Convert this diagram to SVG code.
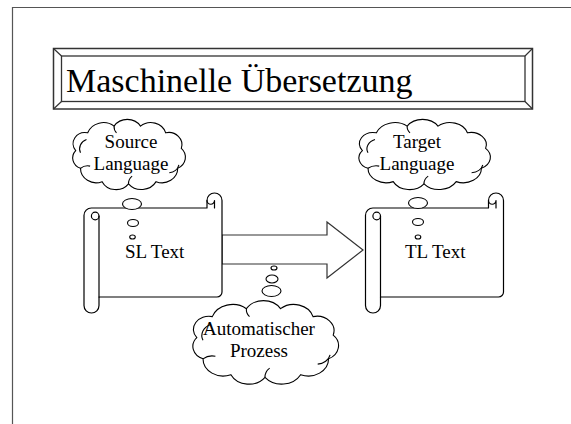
<svg xmlns="http://www.w3.org/2000/svg" xmlns:xlink="http://www.w3.org/1999/xlink" width="571" height="424" viewBox="0 0 571 424">
<style>
.ln{fill:none;stroke:#000;stroke-width:1.2;stroke-linejoin:round;stroke-linecap:round}
.wf{fill:#fff;stroke:#000;stroke-width:1.2;stroke-linejoin:round}
.cl{fill:#fff;stroke:#000;stroke-width:1.1;vector-effect:non-scaling-stroke}
.ci{fill:none;stroke:#000;stroke-width:1.1;vector-effect:non-scaling-stroke}
.t{font-family:"Liberation Serif","Times New Roman",serif;fill:#000}
.lbl{font-size:19px;text-anchor:middle}
.bub{fill:#fff;stroke:#000;stroke-width:1.1}
</style>
<defs>
<g id="cloud">
<path class="cl" d="M-44,-4 A10,10 0 0 1 -34,-20 A14,14 0 0 1 -12,-26 A13,13 0 0 1 10,-26 A13,13 0 0 1 31,-20 A11,11 0 0 1 44,-6 A11,11 0 0 1 41,12 A13,13 0 0 1 23,24 A14,14 0 0 1 0,26 A13,13 0 0 1 -22,24 A13,13 0 0 1 -40,12 A10,10 0 0 1 -44,-4 Z"/>
<path class="ci" d="M-40,-2 A9,9 0 0 1 -35,-14"/>
<path class="ci" d="M-12,-26 A8,8 0 0 0 -10,-20"/>
<path class="ci" d="M42,9 A9,9 0 0 1 34,16"/>
<path class="ci" d="M0,26 A9,9 0 0 1 3,19"/>
<path class="ci" d="M-40,12 A9,9 0 0 1 -32,10"/>
</g>
<g id="scroll">
<path class="wf" d="M92,208 H207 V200.5 A7.5,7.5 0 0 1 222,200.5 V292 A5,5 0 0 1 217,297 H99 V305.5 A7.5,7.5 0 0 1 84,305.5 V216 A7.5,7.5 0 0 1 92,208 Z"/>
<path class="ln" d="M99,216 V297"/>
<circle class="ln" cx="95.2" cy="216" r="3.8"/>
<path class="ln" d="M207,200.5 A3.75,3.75 0 0 0 214.5,200.5 V208"/>
</g>
</defs>

<g id="slide-border">
<path d="M12.5,424 V7.5 H571" fill="none" stroke="#555" stroke-width="1.2"/>
</g>

<g id="title">
<rect x="53.5" y="48.5" width="479" height="60.5" fill="#fff" stroke="#333" stroke-width="1.5"/>
<rect x="61.5" y="56" width="463.5" height="45.5" fill="#fff" stroke="#333" stroke-width="1.3"/>
<path d="M53.5,48.5 L61.5,56 M532.5,48.5 L525,56 M53.5,109 L61.5,101.5 M532.5,109 L525,101.5" stroke="#333" stroke-width="1.2"/>
<text class="t" x="66" y="92" font-size="34">Maschinelle Übersetzung</text>
</g>

<g id="connectors">
<path id="arrow" d="M222,235 H327 V222 L363,250 L327,278 V264 H222 Z" fill="#fff" stroke="#333" stroke-width="1.2" stroke-linejoin="miter"/>
</g>

<g id="sl-text">
<use xlink:href="#scroll"/>
<text class="t" x="125" y="258" font-size="19">SL Text</text>
</g>

<g id="tl-text">
<use xlink:href="#scroll" transform="translate(281.5,0)"/>
<text class="t" x="405" y="258" font-size="19">TL Text</text>
</g>

<g id="source-language">
<use xlink:href="#cloud" transform="translate(128.5,155) scale(1.2,1.11)"/>
<text class="t lbl" x="131" y="148">Source</text>
<text class="t lbl" x="131" y="170">Language</text>
<ellipse class="bub" cx="132" cy="204" rx="9.5" ry="5.5"/>
<ellipse class="bub" cx="133" cy="223" rx="5.5" ry="3.5"/>
<ellipse class="bub" cx="132.5" cy="237" rx="2.8" ry="2"/>
</g>

<g id="target-language">
<use xlink:href="#cloud" transform="translate(424,155) scale(1.4,1.11)"/>
<text class="t lbl" x="417" y="148">Target</text>
<text class="t lbl" x="417" y="170">Language</text>
<ellipse class="bub" cx="418" cy="203" rx="9.5" ry="5.5"/>
<ellipse class="bub" cx="418" cy="222" rx="5.5" ry="3.5"/>
<ellipse class="bub" cx="418" cy="237" rx="2.8" ry="2"/>
</g>

<g id="automatischer-prozess">
<use xlink:href="#cloud" transform="translate(265,343) scale(1.55,1.32)"/>
<text class="t lbl" x="259" y="335">Automatischer</text>
<text class="t lbl" x="259" y="357">Prozess</text>
<ellipse class="bub" cx="274" cy="268" rx="3" ry="2"/>
<ellipse class="bub" cx="272" cy="279" rx="6" ry="4"/>
<ellipse class="bub" cx="271.5" cy="291" rx="9.5" ry="5.5"/>
</g>
</svg>
